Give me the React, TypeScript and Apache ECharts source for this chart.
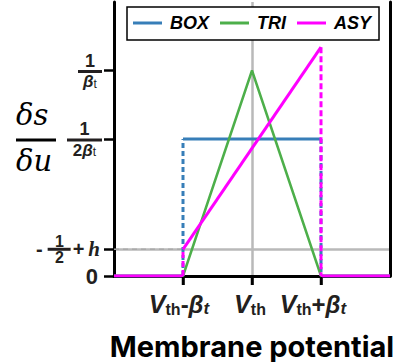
import React, { useEffect, useRef } from "react";
import * as echarts from "echarts";

// ---- data (x in units of beta_t around V_th, y in schematic units) ----
const xMin = -2;
const xMax = 2;
const xTickValues = [-1, 0, 1];
const xTickLabels = [
  "{V|V}{th|th}{op|-}{b|β}{t|t}{sp1|}",
  "{V|V}{th|th}{sp2|}",
  "{V|V}{th|th}{op|+}{b|β}{t|t}{sp3|}",
];
const yMin = 0;
const yMax = 4;
const yTickValues = [2, 0.39, 0, 3];
const yTickLabels = [
  "{one|1}\n{barB|}\n{two|2}{beta|β}{sub|t}",
  "{n3|1}\n{minus|-}{barC|}{plus|+}{h|h}\n{d3|2}",
  "{zero|0}",
  "{one|1}\n{barA|}\n{beta|β}{sub|t}",
];
const seriesNames = ["BOX", "TRI", "ASY"];
const boxPoints = [[-2, 0], [-1, 0], [-1, 2], [1, 2], [1, 0], [2, 0]];
const triPoints = [[-2, 0], [-1, 0], [0, 3], [1, 0], [2, 0]];
const asyPoints = [[-2, 0], [-1, 0], [-1, 0.39], [1, 3.34], [1, 0], [2, 0]];
const guidePoints = [[-2, 0.39], [-1, 0.39]];
const xTitle = "Membrane potential";
const yTitleTop = "δs";
const yTitleBottom = "δu";

const COLORS: Record<string, string> = { BOX: "#377eb8", TRI: "#4daf4a", ASY: "#ff00ff" };
const FONT = "Liberation Sans, Arial, sans-serif";
const TXT = "#231f20";

function split(points: number[][]) {
  const solid: number[][][] = [];
  const dashed: number[][][] = [];
  let run: number[][] = [points[0]];
  for (let i = 1; i < points.length; i++) {
    const a = points[i - 1];
    const b = points[i];
    if (a[0] === b[0]) {
      if (run.length > 1) solid.push(run);
      dashed.push([a, b]);
      run = [b];
    } else run.push(b);
  }
  if (run.length > 1) solid.push(run);
  return { solid, dashed };
}

export default function App() {
  const ref = useRef<HTMLDivElement>(null);
  useEffect(() => {
    if (!ref.current) return;
    const chart = echarts.init(ref.current, undefined, { renderer: "svg" });
    const series: any[] = [
      {
        name: "guide",
        type: "line",
        data: guidePoints,
        symbol: "none",
        lineStyle: { color: "#aaaaaa", width: 1.5, type: [5, 4] },
        silent: true,
      },
    ];
    const widths: Record<string, number> = { BOX: 3, TRI: 2.5, ASY: 3 };
    const dashes: Record<string, number[]> = { BOX: [5, 3], TRI: [5, 3], ASY: [6, 3] };
    const pts: Record<string, number[][]> = { BOX: boxPoints, TRI: triPoints, ASY: asyPoints };
    seriesNames.forEach((name) => {
      const { solid, dashed } = split(pts[name]);
      solid.forEach((d) =>
        series.push({
          name,
          type: "line",
          data: d,
          symbol: "none",
          color: COLORS[name],
          lineStyle: { color: COLORS[name], width: widths[name] },
        })
      );
      dashed.forEach((d) =>
        series.push({
          name,
          type: "line",
          data: d,
          symbol: "none",
          color: COLORS[name],
          lineStyle: { color: COLORS[name], width: widths[name], type: dashes[name] },
        })
      );
    });

    const ylabelMap = new Map<number, string>();
    yTickValues.forEach((v, i) => ylabelMap.set(v, yTickLabels[i]));
    const xlabelMap = new Map<number, string>();
    xTickValues.forEach((v, i) => xlabelMap.set(v, xTickLabels[i]));

    const base = { fontFamily: FONT, color: TXT, fontWeight: "bold" as const };
    const serif = { fontFamily: "DejaVu Serif", fontStyle: "italic" as const, fontSize: 29, fill: "#000" };
    const titleGraphics: any[] = [
      { id: "ya", type: "text", left: 16, top: 100, style: { ...serif, text: yTitleTop, width: 40, align: "center" } },
      { id: "yb", type: "rect", shape: { x: 16, y: 138.5, width: 40, height: 3 }, style: { fill: "#000" } },
      { id: "yc", type: "text", left: 16, top: 146, style: { ...serif, text: yTitleBottom, width: 40, align: "center" } },
    ];
    chart.setOption({
      animation: false,
      backgroundColor: "#ffffff",
      grid: { left: 114, right: 30, top: 2, bottom: 86, containLabel: false, outerBoundsMode: "none" },
      graphic: titleGraphics,
      legend: {
        data: seriesNames,
        left: 127,
        top: 7,
        padding: [7, 8, 8, 6],
        itemGap: 11,
        itemWidth: 29,
        itemHeight: 3,
        icon: "rect",
        borderColor: "#000",
        borderWidth: 1.5,
        backgroundColor: "#fff",
        textStyle: {
          fontFamily: FONT,
          fontSize: 18,
          lineHeight: 18,
          fontWeight: "bold",
          fontStyle: "italic",
          color: "#000",
          padding: [0, 0, 0, 3],
        },
      },
      xAxis: {
        type: "value",
        min: xMin,
        max: xMax,
        interval: 1,
        name: xTitle,
        nameLocation: "middle",
        nameGap: 58,
        nameTextStyle: { fontFamily: "Inter", fontSize: 29, lineHeight: 24, fontWeight: "bold", color: "#000" },
        axisLine: { show: true, onZero: false, lineStyle: { color: "#000", width: 3 } },
        axisTick: {
          show: true,
          inside: false,
          customValues: xTickValues,
          length: 9,
          lineStyle: { color: "#000", width: 2.5 },
        },
        axisLabel: {
          customValues: xTickValues,
          margin: 15,
          formatter: (v: number) => xlabelMap.get(v) ?? "",
          rich: {
            V: { ...base, fontSize: 25, fontStyle: "italic", lineHeight: 26 },
            th: { ...base, fontSize: 16, lineHeight: 17, verticalAlign: "bottom" },
            op: { ...base, fontSize: 24, lineHeight: 26 },
            b: { ...base, fontSize: 24, fontStyle: "italic", lineHeight: 26 },
            t: { ...base, fontSize: 17, fontStyle: "italic", lineHeight: 17, verticalAlign: "bottom" },
            sp1: { width: 8, height: 1 },
            sp2: { width: 4, height: 1 },
            sp3: { width: 16, height: 1 },
          },
        },
        splitLine: {
          show: true,
          showMinLine: false,
          showMaxLine: false,
          lineStyle: { color: "#b9b9b9", width: 2.5 },
        },
      },
      yAxis: [
        {
          type: "value",
          min: yMin,
          max: yMax,
          interval: 1,
          axisLine: { show: true, onZero: false, lineStyle: { color: "#000", width: 3 } },
          axisTick: {
            show: true,
            customValues: yTickValues,
            length: 10,
            lineStyle: { color: "#000", width: 2.5 },
          },
          axisLabel: {
            customValues: yTickValues,
            hideOverlap: false,
            margin: 12,
            formatter: (v: number) => {
              for (const [k, s] of ylabelMap) if (Math.abs(k - v) < 1e-6) return s;
              return "";
            },
            rich: {
              zero: { ...base, fontSize: 22, lineHeight: 14, padding: [0, 4, 0, 0] },
              one: { ...base, fontSize: 18, lineHeight: 18, align: "center" },
              two: { ...base, fontSize: 17, lineHeight: 16, align: "center" },
              beta: { ...base, fontSize: 17, fontStyle: "italic", lineHeight: 16, align: "center" },
              sub: { ...base, fontWeight: "normal", fontSize: 12, lineHeight: 12, align: "center", verticalAlign: "bottom" },
              barA: { width: 24, height: 3, lineHeight: 4, backgroundColor: TXT, align: "center" },
              barB: { width: 35, height: 3, lineHeight: 4, backgroundColor: TXT, align: "center" },
              n3: { ...base, fontSize: 16, lineHeight: 12, align: "left", padding: [0, 0, 0, 19] },
              d3: { ...base, fontSize: 16, lineHeight: 12, align: "left", padding: [0, 0, 0, 19] },
              minus: { ...base, fontSize: 20, lineHeight: 4, align: "left", padding: [0, 5, 0, 0] },
              barC: { width: 23, height: 3, lineHeight: 4, backgroundColor: TXT, align: "left" },
              plus: { ...base, fontSize: 20, lineHeight: 4, align: "left", padding: [0, 2, 0, 2] },
              h: {
                fontFamily: "Liberation Serif",
                fontStyle: "italic",
                fontWeight: "bold",
                color: TXT,
                fontSize: 21,
                lineHeight: 4,
                align: "left",
                padding: [0, 2, 0, 2],
              },
            },
          },
          splitLine: {
            show: true,
            showMinLine: false,
            showMaxLine: false,
            lineStyle: { color: "#b9b9b9", width: 2.5 },
          },
        },
        {
          type: "value",
          min: yMin,
          max: yMax,
          interval: 1,
          position: "right",
          axisLine: { show: true, onZero: false, lineStyle: { color: "#000", width: 3 } },
          axisTick: { show: false },
          axisLabel: { show: false },
          splitLine: { show: false },
        },
      ],
      series,
    });

    // x-axis tick marks placed through the chart's own scale
    const tickGraphics = xTickValues.map((v, i) => {
      const p = chart.convertToPixel({ xAxisIndex: 0, yAxisIndex: 0 }, [v, yMin]) as number[];
      return {
        id: "xt" + i,
        type: "rect",
        z: 100,
        shape: { x: p[0] - 1.25, y: p[1] + 1, width: 2.5, height: 8 },
        style: { fill: "#000" },
      };
    });
    chart.setOption({ graphic: [...titleGraphics, ...tickGraphics] });

    return () => chart.dispose();
  }, []);
  return (
    <div
      ref={ref}
      style={{ position: "absolute", left: 0, top: 0, width: 420, height: 362 }}
    />
  );
}
